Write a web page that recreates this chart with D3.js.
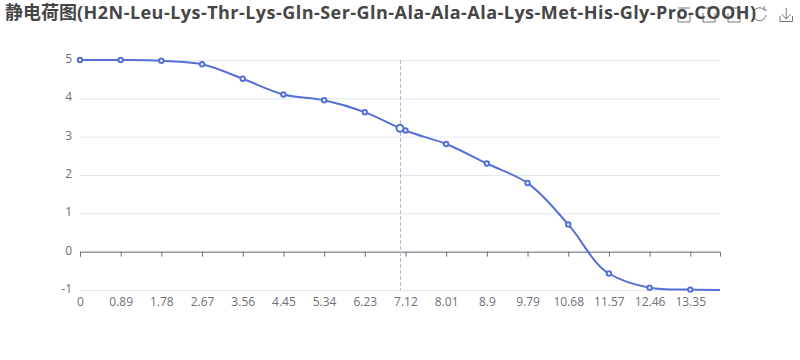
<!DOCTYPE html>
<html>
<head>
<meta charset="utf-8">
<script src="https://cdn.jsdelivr.net/npm/d3@7"></script>
<style>
  html, body { margin: 0; padding: 0; background: #fff; }
  text { font-family: "Open Sans", "Noto Sans CJK SC", sans-serif; }
</style>
</head>
<body>
<div id="chart"></div>
<script>
const titleCjk = "静电荷图";
const titleLatin = "(H2N-Leu-Lys-Thr-Lys-Gln-Ser-Gln-Ala-Ala-Ala-Lys-Met-His-Gly-Pro-COOH)";
const ph =     [0, 0.89, 1.78, 2.67, 3.56, 4.45, 5.34, 6.23, 7, 7.12, 8.01, 8.9, 9.79, 10.68, 11.57, 12.46, 13.35, 14];
const charge = [5, 5.0, 4.98, 4.89, 4.51, 4.1, 3.95, 3.64, 3.22, 3.16, 2.81, 2.3, 1.79, 0.71, -0.57, -0.94, -0.99, -1];
const xTicks = [0, 0.89, 1.78, 2.67, 3.56, 4.45, 5.34, 6.23, 7.12, 8.01, 8.9, 9.79, 10.68, 11.57, 12.46, 13.35];
const yTicks = [-1, 0, 1, 2, 3, 4, 5];
const hoverPh = 7;

const width = 800, height = 360;
const margin = { top: 60, right: 80, bottom: 70, left: 80 };

const svg = d3.select("#chart").append("svg")
  .attr("width", width)
  .attr("height", height)
  .style("display", "block");

const sx = d3.scaleLinear().domain([0, 14]).range([margin.left, width - margin.right]);
const sy = d3.scaleLinear().domain([-1, 5]).range([height - margin.bottom, margin.top]);

// grid lines and y labels
const yaxis = d3.axisLeft(sy)
  .tickValues(yTicks)
  .tickFormat(d => d)
  .tickSize(-(width - margin.left - margin.right))
  .tickPadding(8);
svg.append("g")
  .attr("class", "y-axis")
  .attr("transform", `translate(${margin.left},0)`)
  .call(yaxis)
  .call(g => g.select(".domain").remove())
  .call(g => g.selectAll("line").attr("stroke", "#e0e6f1"))
  .call(g => g.selectAll("text").attr("fill", "#6e7079").attr("font-size", 12).attr("dy", "0.2em"));

// x axis sits on zero, its labels are pushed down under the plot
const xaxis = d3.axisBottom(sx).tickValues(xTicks).tickFormat(d => d).tickSizeOuter(0).tickSize(5);
svg.append("g")
  .attr("class", "x-axis")
  .attr("transform", `translate(0,${sy(0)})`)
  .call(xaxis)
  .call(g => g.select(".domain").attr("stroke", "#6e7079"))
  .call(g => g.selectAll("line").attr("stroke", "#6e7079"))
  .call(g => g.selectAll("text")
    .attr("fill", "#6e7079")
    .attr("font-size", 12)
    .attr("y", sy(-1) - sy(0) + 7));

// hover pointer
svg.append("line")
  .attr("x1", sx(hoverPh) + 0.5).attr("x2", sx(hoverPh) + 0.5)
  .attr("y1", sy(5)).attr("y2", sy(-1))
  .attr("stroke", "#b6b9d0")
  .attr("stroke-dasharray", "4,2");

const line = d3.line().x((d, i) => sx(ph[i])).y(d => sy(d)).curve(d3.curveCatmullRom.alpha(1));

svg.append("path")
  .attr("d", line(charge))
  .attr("fill", "none")
  .attr("stroke", "#5470d6")
  .attr("stroke-width", 2);

svg.append("g")
  .selectAll("circle")
  .data(charge.slice(0, -1))
  .join("circle")
  .attr("cx", (d, i) => sx(ph[i]))
  .attr("cy", d => sy(d))
  .attr("r", (d, i) => ph[i] === hoverPh ? 3.5 : 2.2)
  .attr("fill", "#fff")
  .attr("stroke", "#5470d6")
  .attr("stroke-width", 2);

// toolbox icons, the title runs over them
const icons = svg.append("g").attr("fill", "none").attr("stroke", "#777").attr("stroke-width", 1);
[684, 709, 734].forEach(x => {
  icons.append("path").attr("d", `M${x - 6},13v9h12v-9`);
  icons.append("path").attr("d", `M${x - 6},8h12`);
});
icons.append("path").attr("d", "M764,9.5A6.5,6.5,0,1,0,766,15M764,6v4h3");
icons.append("path").attr("d", "M780,16v5.5h12.5v-5.5M786.2,8v11M781.5,14l4.7,5l4.7,-5");

const title = svg.append("text")
  .attr("x", 5)
  .attr("y", 19)
  .attr("font-size", 18)
  .attr("font-weight", "bold")
  .attr("fill", "#464646");
title.append("tspan").text(titleCjk);
title.append("tspan").attr("letter-spacing", 0.46).text(titleLatin);
</script>
</body>
</html>
